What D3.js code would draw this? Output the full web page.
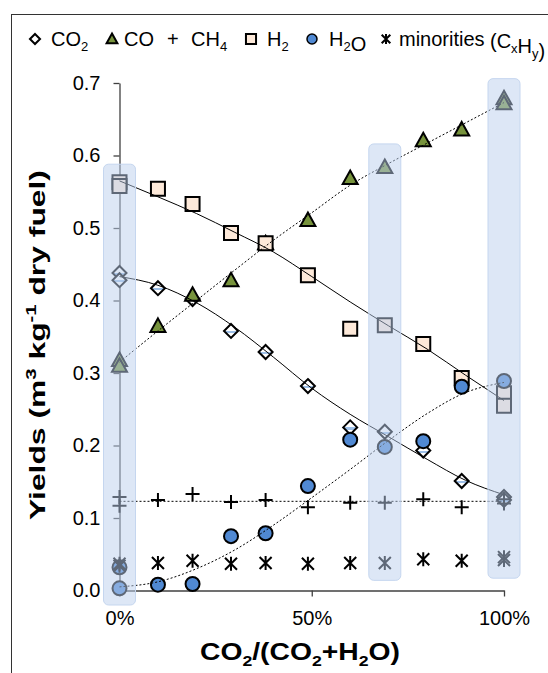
<!DOCTYPE html>
<html><head><meta charset="utf-8">
<script src="https://cdn.jsdelivr.net/npm/d3@7/dist/d3.min.js"></script>
<style>body{margin:0;background:#fff;} svg{display:block;font-family:Arial,"Liberation Sans",sans-serif;}</style>
</head><body><svg id="c" width="548" height="673"></svg>
<script>
// ---- data ----
const xTicks = [0, 50, 100];
const yTicks = [0, 0.1, 0.2, 0.3, 0.4, 0.5, 0.6, 0.7];

const co2X = [0, 0, 10, 19, 29, 38, 49, 60, 69, 79, 89, 100, 100];
const co2Y = [0.438, 0.428, 0.417, 0.402, 0.358, 0.329, 0.282, 0.225, 0.219, 0.193, 0.151, 0.129, 0.125];

const coX = [0, 0, 10, 19, 29, 38, 49, 60, 69, 79, 89, 100, 100];
const coY = [0.318, 0.310, 0.365, 0.408, 0.428, 0.479, 0.511, 0.569, 0.584, 0.621, 0.636, 0.679, 0.672];

const ch4X = [0, 0, 10, 19, 29, 38, 49, 60, 69, 79, 89, 100, 100];
const ch4Y = [0.129, 0.117, 0.125, 0.133, 0.122, 0.125, 0.115, 0.121, 0.121, 0.126, 0.115, 0.126, 0.120];

const h2X = [0, 0, 10, 19, 29, 38, 49, 60, 69, 79, 89, 100, 100];
const h2Y = [0.563, 0.558, 0.554, 0.533, 0.493, 0.479, 0.435, 0.361, 0.366, 0.340, 0.293, 0.272, 0.255];

const h2oX = [0, 0, 10, 19, 29, 38, 49, 60, 69, 79, 89, 100];
const h2oY = [0.003, 0.032, 0.008, 0.009, 0.075, 0.079, 0.144, 0.208, 0.198, 0.206, 0.281, 0.289];

const minX = [0, 0, 10, 19, 29, 38, 49, 60, 69, 79, 89, 100, 100];
const minY = [0.037, 0.034, 0.038, 0.041, 0.037, 0.038, 0.037, 0.038, 0.038, 0.043, 0.041, 0.046, 0.042];

// trend lines
const fitX = [0, 10, 20, 30, 40, 50, 60, 70, 80, 90, 100];
const co2Fit = [0.433, 0.421, 0.397, 0.363, 0.322, 0.279, 0.243, 0.212, 0.181, 0.152, 0.132];
const h2Fit  = [0.565, 0.543, 0.520, 0.494, 0.467, 0.433, 0.398, 0.365, 0.333, 0.297, 0.262];
const coFit  = [0.315, 0.358, 0.400, 0.442, 0.483, 0.521, 0.559, 0.589, 0.617, 0.645, 0.673];
const h2oFit = [0.005, 0.012, 0.030, 0.056, 0.090, 0.128, 0.167, 0.207, 0.244, 0.273, 0.287];
const ch4FitX = [0, 100];
const ch4Fit = [0.123, 0.123];

// highlighted columns
const hlX = [0, 69, 100];
const hlTop = [0.588, 0.616, 0.706];
const hlBottom = [-0.02, 0.014, 0.017];

// ---- drawing ----
const FONT = "Arial, 'Liberation Sans', sans-serif";
const svg = d3.select("#c");
const x = d3.scaleLinear().domain([0, 100]).range([119.5, 504]);
const y = d3.scaleLinear().domain([0, 0.7]).range([590.5, 83]);

const defs = svg.append("defs");
const g = defs.append("linearGradient").attr("id", "dgrad").attr("x1", 0).attr("x2", 0).attr("y1", 0).attr("y2", 1);
[[0, "#fff"], [0.5, "#fff"], [0.5, "#9ec0e8"], [0.66, "#9ec0e8"], [0.66, "#fff"], [1, "#fff"]]
  .forEach(([o, c]) => g.append("stop").attr("offset", o).attr("stop-color", c));

// frame
svg.append("rect").attr("x", 11.5).attr("y", 14.5).attr("width", 700).attr("height", 800)
  .attr("fill", "none").attr("stroke", "#333").attr("stroke-width", 1);

// axes
const yAxis = svg.append("g").attr("transform", `translate(${x(0)},0)`)
  .call(d3.axisLeft(y).tickValues(yTicks).tickFormat(d3.format(".1f")).tickSize(6).tickSizeOuter(0).tickPadding(13));
const xAxis = svg.append("g").attr("transform", `translate(0,${y(0)})`)
  .call(d3.axisBottom(x).tickValues(xTicks).tickFormat(d => d + "%").tickSize(6).tickSizeOuter(0).tickPadding(14));
[yAxis, xAxis].forEach(a => {
  a.selectAll("path,line").attr("stroke", "#404040").attr("stroke-width", 1.3);
  a.selectAll("text").attr("font-size", 20).attr("fill", "#000").attr("font-family", FONT);
});

// markers
const S = 7;
const diamond = `M0,${-S}L${S},0L0,${S}L${-S},0Z`;
const tri = `M0,-7.5L7.5,6L-7.5,6Z`;
const square = `M-7,-7H7V7H-7Z`;
const plus = `M-7,0H7M0,-7V7`;
const star = `M0,-7V7M-6,-6L6,6M6,-6L-6,6`;

function pts(xs, ys) { return xs.map((d, i) => [x(d), y(ys[i])]); }

const mk = svg.append("g");
function draw(xs, ys, path, fill, stroke, sw) {
  mk.append("g").selectAll("path").data(pts(xs, ys)).join("path")
    .attr("transform", d => `translate(${d[0]},${d[1]})`)
    .attr("d", path).attr("fill", fill).attr("stroke", stroke).attr("stroke-width", sw);
}
function drawCircles(xs, ys) {
  mk.append("g").selectAll("circle").data(pts(xs, ys)).join("circle")
    .attr("cx", d => d[0]).attr("cy", d => d[1]).attr("r", 7)
    .attr("fill", "#5089d3").attr("stroke", "#000").attr("stroke-width", 2);
}
draw(co2X, co2Y, diamond, "url(#dgrad)", "#000", 2);
draw(coX, coY, tri, "#77933c", "#000", 2);
draw(ch4X, ch4Y, plus, "none", "#000", 2);
draw(h2X, h2Y, square, "#fde9d9", "#000", 2);
drawCircles(h2oX, h2oY);
draw(minX, minY, star, "none", "#000", 2);

// trend lines
const line = d3.line().curve(d3.curveMonotoneX);
[[fitX, co2Fit, null], [fitX, h2Fit, null], [fitX, coFit, "2,2"], [fitX, h2oFit, "2,2"], [ch4FitX, ch4Fit, "2,2"]]
  .forEach(([xs, ys, dash]) => {
    svg.append("path").attr("d", line(pts(xs, ys))).attr("fill", "none")
      .attr("stroke", "#000").attr("stroke-width", 1).attr("stroke-dasharray", dash);
  });

// highlight columns (translucent overlay)
svg.append("g").selectAll("rect").data(hlX).join("rect")
  .attr("x", d => x(d) - 16).attr("width", 32)
  .attr("y", (d, i) => y(hlTop[i])).attr("height", (d, i) => y(hlBottom[i]) - y(hlTop[i]))
  .attr("rx", 5).attr("fill", "rgb(188,208,238)").attr("fill-opacity", 0.5)
  .attr("stroke", "#c5d6ef").attr("stroke-width", 1);

// legend
const leg = svg.append("g").attr("font-size", 20).attr("font-family", FONT);
const ly = 39;
function legText(xp, parts, yoff) {
  const t = leg.append("text").attr("x", xp).attr("y", ly + (yoff || 7));
  parts.forEach(p => {
    if (typeof p === "string") t.append("tspan").text(p);
    else t.append("tspan").attr("font-size", 13).attr("dy", p.dy).text(p.t);
  });
  return t;
}
function legMark(xp, path, fill, sc) {
  leg.append("path").attr("transform", `translate(${xp},${ly}) scale(${sc})`).attr("d", path)
    .attr("fill", fill).attr("stroke", "#000").attr("stroke-width", 2 / sc);
}
legMark(35, diamond, "#fff", 0.72);
legText(51, ["CO", {t: "2", dy: 5}]);
legMark(112, tri, "#77933c", 0.72);
legText(124, ["CO"]);
legText(167, ["+"]);
legText(191, ["CH", {t: "4", dy: 5}]);
legMark(251, square, "#fde9d9", 0.72);
legText(267, ["H", {t: "2", dy: 5}]);
leg.append("circle").attr("cx", 312).attr("cy", ly).attr("r", 5).attr("fill", "#5089d3").attr("stroke", "#000").attr("stroke-width", 1.5);
legText(329, ["H", {t: "2", dy: 5}, {t: "", dy: -5}, "O"]);
legMark(386, star, "none", 0.72);
legText(399, ["minorities"]);
legText(490, ["(C", {t: "x", dy: 5}, {t: "", dy: -5}, "H", {t: "y", dy: 5}, {t: "", dy: -5}, ")"], 9);

// axis titles
const yt = svg.append("text").attr("transform", "translate(45,345) rotate(-90)")
  .attr("text-anchor", "middle").attr("font-weight", "bold").attr("font-size", 22).attr("font-family", FONT)
  .attr("textLength", 350).attr("lengthAdjust", "spacingAndGlyphs");
yt.append("tspan").text("Yields (m");
yt.append("tspan").attr("font-size", 14).attr("dy", -9).text("3");
yt.append("tspan").attr("dy", 9).text(" kg");
yt.append("tspan").attr("font-size", 14).attr("dy", -9).text("-1");
yt.append("tspan").attr("dy", 9).text(" dry fuel)");

const xt = svg.append("text").attr("x", 300).attr("y", 660)
  .attr("text-anchor", "middle").attr("font-weight", "bold").attr("font-size", 24).attr("font-family", FONT)
  .attr("textLength", 200).attr("lengthAdjust", "spacingAndGlyphs");
xt.append("tspan").text("CO");
xt.append("tspan").attr("font-size", 15).attr("dy", 6).text("2");
xt.append("tspan").attr("dy", -6).text("/(CO");
xt.append("tspan").attr("font-size", 15).attr("dy", 6).text("2");
xt.append("tspan").attr("dy", -6).text("+H");
xt.append("tspan").attr("font-size", 15).attr("dy", 6).text("2");
xt.append("tspan").attr("dy", -6).text("O)");
</script></body></html>
